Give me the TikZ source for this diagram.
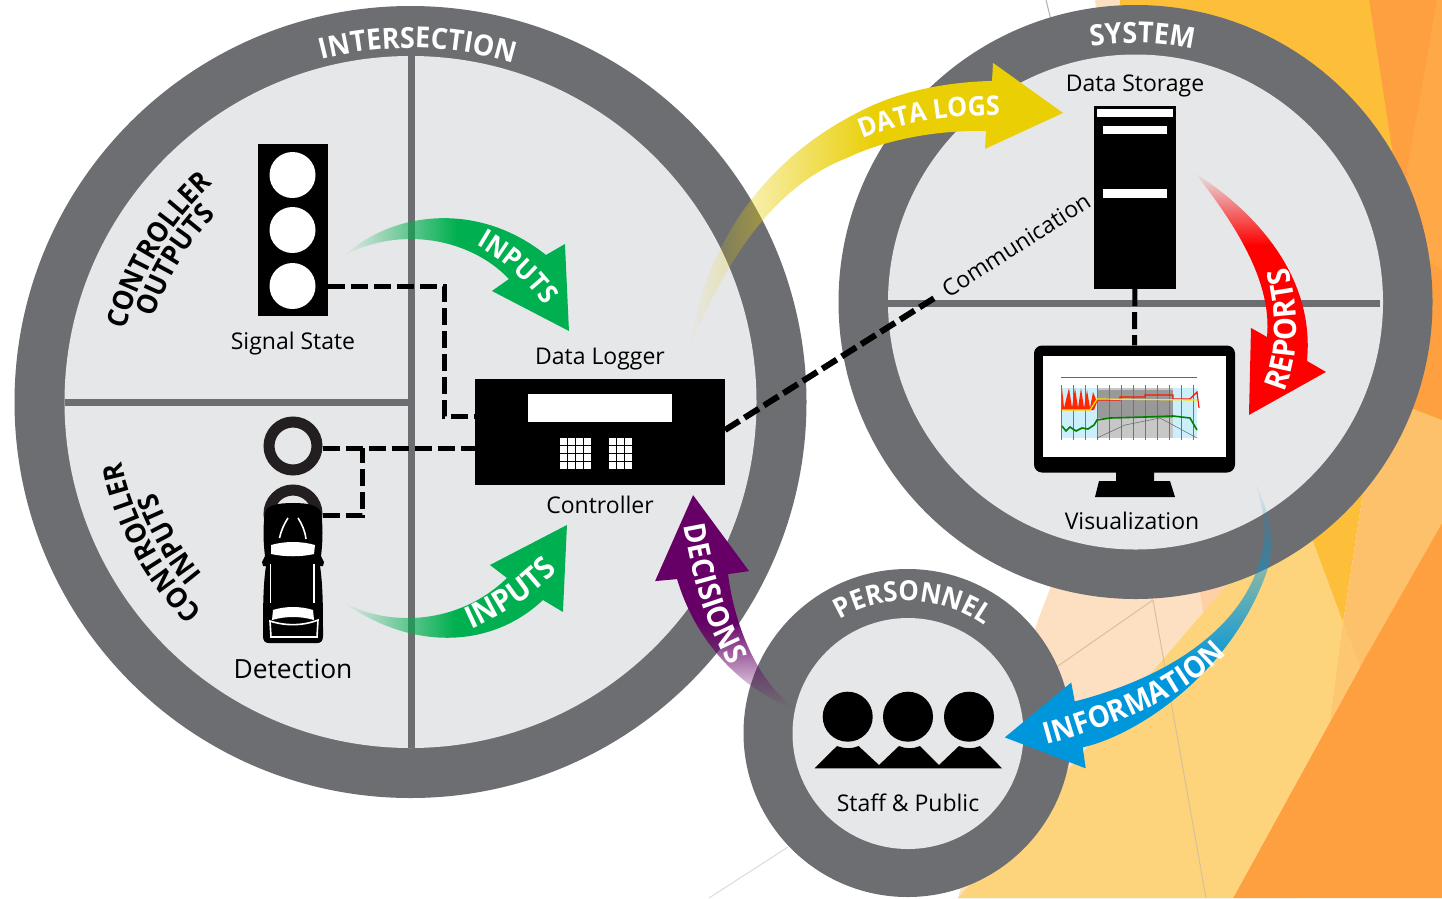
\documentclass[tikz,border=0pt]{standalone}
\usepackage{fontspec}
\setmainfont{Open Sans}
\newfontfamily\capsfont[FakeStretch=0.93]{Open Sans}
\usetikzlibrary{decorations.text,fadings}
\definecolor{ringgrey}{HTML}{6D6E71}
\definecolor{innergrey}{HTML}{E6E7E8}
\definecolor{loopdark}{HTML}{231F20}
\definecolor{bgpeach}{HTML}{FDE0C2}
\definecolor{bgpeachdark}{HTML}{FDD0A6}
\definecolor{bgyellow}{HTML}{FDD47C}
\definecolor{bggold}{HTML}{FDBF3A}
\definecolor{bgorange}{HTML}{FEA03F}
\definecolor{bgorangelight}{HTML}{FDC06B}
\definecolor{bgwedge}{HTML}{FEA848}
\definecolor{bgline}{HTML}{D9BF9A}
\definecolor{arrowgreen}{HTML}{00B050}
\definecolor{arrowyellow}{HTML}{EACF04}
\definecolor{arrowpurple}{HTML}{660066}
\definecolor{arrowblue}{HTML}{0096DB}
\pgfdeclarehorizontalshading{longramp}{100bp}{color(0bp)=(black); color(25bp)=(black); color(50bp)=(white); color(100bp)=(white)}
\pgfdeclarehorizontalshading{shortramp}{100bp}{color(0bp)=(black); color(25.5bp)=(black); color(46bp)=(white); color(100bp)=(white)}
\pgfdeclarehorizontalshading{redramp}{100bp}{color(0bp)=(black); color(25bp)=(black); color(40bp)=(white); color(100bp)=(white)}
\pgfdeclarehorizontalshading{blueramp}{100bp}{color(0bp)=(black); color(26bp)=(black); color(58bp)=(white); color(100bp)=(white)}
\pgfdeclarefading{fadelong}{\pgfuseshading{longramp}}
\pgfdeclarefading{fadeshort}{\pgfuseshading{shortramp}}
\pgfdeclarefading{fadered}{\pgfuseshading{redramp}}
\pgfdeclarefading{fadeblue}{\pgfuseshading{blueramp}}
\newcommand{\capstext}[1]{\capsfont\bfseries\fontsize{#1}{#1}\selectfont\color{white}}
\newcommand{\zonetext}{\capsfont\bfseries\fontsize{28}{28}\selectfont\color{black}}
\tikzset{
  ring/.style={fill=ringgrey},
  inner/.style={fill=innergrey},
  bar/.style={draw=ringgrey,line width=7pt},
  label/.style={font=\fontsize{23}{23}\selectfont},
  dashline/.style={line width=5pt,dash pattern=on 17pt off 6pt},
  arctext/.style 2 args={decorate,decoration={text along path,text align=center,text={|#1|#2}}},
  keycell/.style={fill=white,minimum size=7pt}
}
\begin{document}
\begin{tikzpicture}
    [x=1pt,y=-1pt,inner sep=0pt]
    \useasboundingbox (0,0) rectangle (1442,898);
    % background
    \fill [white] (0,0) rectangle (1442,898);
    \fill [bgpeach] (1095,0) -- (1125,0) -- (1135,40) -- (1100,40) -- cycle;
    \fill [bgpeach] (1065,550) -- (1038,620) -- (958,898) -- (1300,898) -- (1300,500) -- cycle;
    \fill [bgpeachdark] (1195,560) -- (1204,618) -- (1260,555) -- cycle;
    \fill [bgorange] (1369,0) -- (1442,0) -- (1442,898) -- (1233,898) -- (1360,667) -- cycle;
    \fill [bgwedge] (1437,0) -- (1442,0) -- (1442,270) -- (1395,240) -- cycle;
    \fill [bggold] (1120,0) -- (1369,0) -- (1400,200) -- (1363,493) -- (1343,623) -- (1313,542) -- (1135,302) -- cycle;
    \fill [bgyellow] (958,898) -- (1300,500) -- (1313,542) -- (1343,623) -- (1360,667) -- (1233,898) -- cycle;
    \fill [bgorangelight] (1363,493) -- (1343,623) -- (1360,667) -- (1442,523) -- (1442,420) -- (1390,400) -- cycle;
    \fill [bgorangelight!70!bgyellow] (1343,623) -- (1330,722) -- (1360,667) -- cycle;
    \draw [bgline,line width=1pt] (1153,600) -- (1206,898);
    \draw [bgline,line width=1pt] (1153,600) -- (1055,668);
    \draw [black!14,line width=1pt] (788,847) -- (709,898);
    \draw [black!30,line width=1pt] (1046,0) -- (1051,20);
    % rings
    \fill [ring] (410.5,402) circle [radius=396];
    \fill [inner] (410.5,402) circle [radius=346];
    \fill [ring] (1135.5,302) circle [radius=297];
    \fill [inner] (1135.5,302) circle [radius=247.5];
    \fill [ring] (907.5,733) circle [radius=164];
    \fill [inner] (908,733.5) circle [radius=115.5];
    \draw [bar] (411,56) -- (411,748);
    \draw [bar] (65,402) -- (408,402);
    \draw [bar] (888,303) -- (1380,303);
    % ring titles
    \path [arctext={\capstext{29}}{INTERSECTION}] ([shift={(410.5,402)}]251.2:354) arc [start angle=251.2,end angle=291.2,radius=354];
    \path [arctext={\capstext{29}}{SYSTEM}] ([shift={(1135.5,302)}]256.5:259) arc [start angle=256.5,end angle=286.5,radius=259];
    \path [arctext={\capstext{27.7}}{PERSONNEL}] ([shift={(907.5,733)}]232.5:132) arc [start angle=232.5,end angle=312.5,radius=132];
    \path [arctext={\zonetext}{CONTROLLER}] ([shift={(410.5,402)}]191:294) arc [start angle=191,end angle=231,radius=294];
    \path [arctext={\zonetext}{OUTPUTS}] ([shift={(410.5,402)}]196:270) arc [start angle=196,end angle=226,radius=270];
    \path [arctext={\zonetext}{CONTROLLER}] ([shift={(410.5,402)}]131.5:295) arc [start angle=131.5,end angle=171.5,radius=295];
    \path [arctext={\zonetext}{INPUTS}] ([shift={(410.5,402)}]135.5:270) arc [start angle=135.5,end angle=165.5,radius=270];
    % signal
    \node (signal) at (293,230) [fill=black,minimum width=70pt,minimum height=172pt] {};
    \foreach \lamp/\ypos in {lampa/175,lampb/230,lampc/286}
      \node (\lamp) at (292.5,\ypos) [circle,fill=white,minimum size=46pt] {};
    \node (signallabel) at (293,344) [label] {Signal State};
    % detection
    \node (loopa) at (293,446) [circle,draw=loopdark,line width=11pt,minimum size=48pt] {};
    \node (loopb) at (293,514) [circle,draw=loopdark,line width=11pt,minimum size=48pt] {};
    \fill [black] (293,503) .. controls (278,503) and (268,505) .. (265,512) .. controls (263,525) and (263,540) .. (265,556)
      -- (262,562) -- (263,566) -- (266,566) .. controls (263,585) and (263,610) .. (263,636)
      .. controls (263,641) and (265,643) .. (269,643) -- (317,643) .. controls (321,643) and (323,641) .. (323,636)
      .. controls (323,610) and (323,585) .. (320,566) -- (323,566) -- (324,562) -- (321,556)
      .. controls (323,540) and (323,525) .. (321,512) .. controls (318,505) and (308,503) .. (293,503) -- cycle;
    \fill [white] (271,545) .. controls (285,541) and (301,541) .. (315,545) -- (314,554) .. controls (301,557) and (285,557) .. (271,554) -- cycle;
    \draw [white,line width=1.6pt] (288,518) .. controls (284,524) and (281,531) .. (279.5,538);
    \draw [white,line width=1.6pt] (298,518) .. controls (302,524) and (305,531) .. (306,539);
    \draw [white,line width=1.2pt] (270.7,564) -- (270.7,603);
    \draw [white,line width=1.2pt] (314,564) -- (314,603);
    \fill [white] (273,610) .. controls (285,606) and (301,606) .. (313,610) -- (314,620) .. controls (301,616) and (285,616) .. (272,620) -- cycle;
    \draw [white,line width=1.6pt] (270,621) .. controls (285,626) and (303,626) .. (318,620) -- (317,637) -- (271,637) -- cycle;
    \node (detectionlabel) at (293,669) [font=\fontsize{26.4}{26.4}\selectfont] {Detection};
    % controller
    \node (logger) at (600,359) [label] {Data Logger};
    \node (controller) at (600,432) [fill=black,minimum width=250pt,minimum height=106pt] {};
    \node (display) at (600,408) [fill=white,minimum width=144pt,minimum height=28pt] {};
    \foreach \ypos in {441,449,457,465} {
      \foreach \xpos in {563.5,571.5,579.5,587.5,612.5,620.5,628.5}
        \node at (\xpos,\ypos) [keycell] {};
    }
    \node (controllerlabel) at (600,505) [label] {Controller};
    % system
    \node (storagelabel) at (1135,86) [label] {Data Storage};
    \node (server) at (1135,197.5) [fill=black,minimum width=82pt,minimum height=183pt] {};
    \node (slota) at (1135,113) [fill=white,minimum width=76pt,minimum height=8pt] {};
    \node (slotb) at (1135,130) [fill=white,minimum width=64pt,minimum height=8pt] {};
    \node (slotc) at (1135,193.5) [fill=white,minimum width=64pt,minimum height=9pt] {};
    \node (commlabel) at (1016,245) [label,rotate=32.7] {Communication};
    \node (monitor) at (1134.5,409) [fill=black,rounded corners=8pt,minimum width=201pt,minimum height=127pt] {};
    \node (screen) at (1134.5,406.5) [fill=white,minimum width=183pt,minimum height=101pt] {};
    \fill [black] (1116,472) -- (1154,472) -- (1154,481) -- (1170,481) -- (1175,497) -- (1095,497) -- (1099,481) -- (1116,481) -- cycle;
    \fill [cyan!20!white] (1061,388) rectangle (1197,438);
    \fill [black!22] (1097,388) rectangle (1173,438);
    \fill [black!40] (1097,390) rectangle (1173,418);
    \foreach \xpos in {1061,1073,...,1203}
      \draw [black!55,line width=.5pt] (\xpos,385) -- (\xpos,440);
    \draw [black!60,line width=.5pt] (1061,377) -- (1197,377);
    \fill [red!70!orange] (1062,388) -- (1064,408) -- (1069,388) -- (1072,408) -- (1075,388) -- (1078,408) -- (1081,388) -- (1084,408) -- (1087,390) -- (1090,408) -- (1093,392) -- (1097,402) -- (1094,410) -- (1062,410) -- cycle;
    \draw [red!85!orange,line width=1.2pt] (1097,400) -- (1120,400) -- (1120,397) -- (1145,397) -- (1145,395) -- (1173,395) -- (1173,399) -- (1190,399) -- (1197,392) -- (1199,408);
    \draw [yellow!90!orange,line width=1.2pt] (1062,410) -- (1090,410) -- (1097,399) -- (1197,400);
    \draw [green!50!black,line width=1.6pt] (1062,426) -- (1066,431) -- (1070,427) -- (1076,431) -- (1082,428) -- (1088,429) -- (1094,425) -- (1097,420) -- (1110,418) -- (1145,417) -- (1173,416) -- (1190,418) -- (1197,430);
    \draw [black!60,line width=.5pt] (1097,438) -- (1125,425) -- (1160,418) -- (1197,438);
    \node (monitorlabel) at (1132,521) [label] {Visualization};
    % personnel
    \foreach \xpos in {847.7,908,969}
      \fill [black] (\xpos,716.7) ellipse [x radius=25,y radius=25];
    \fill [black] (814.5,768.3) -- (837,746) .. controls (845,749) and (851,749) .. (858.5,746) -- (879,765) -- (899,746)
      .. controls (906,749) and (913,749) .. (920,746) -- (939,765) -- (959,746) .. controls (966,749) and (973,749) .. (980,746) -- (1002,768.3) -- cycle;
    \node (stafflabel) at (908,803) [label] {Staff \& Public};
    % connectors
    \coordinate (signalbend) at (444,286);
    \coordinate (signalin) at (475,416);
    \coordinate (loopbend) at (362,515);
    \coordinate (loopjoin) at (362,448);
    \coordinate (loopin) at (475,448);
    \coordinate (commout) at (725,430);
    \coordinate (commend) at (936,297);
    \draw [dashline] (signal.east |- lampc) -- (signalbend) |- (signalin);
    \draw [dashline] (loopa.east |- loopin) -- (loopin);
    \draw [dashline] (loopb.east |- loopbend) -- (loopbend) -- (loopjoin);
    \draw [dashline,line width=6pt] (commout) -- (commend);
    \draw [dashline] (server) -- (monitor);
    % arrows
    \fill [arrowgreen,path fading=fadelong] (345,255) .. controls (395,210) and (480,202) .. (546,255)
      -- (565,244) -- (569,331) -- (492,291) -- (509,279) .. controls (470,238) and (400,226) .. (345,255) -- cycle;
    \path [arctext={\capstext{27}}{INPUTS}] (478,246) .. controls (507,263) and (527,281) .. (543,304);
    \fill [arrowgreen,path fading=fadelong] (343,602) .. controls (390,628) and (460,624) .. (507,578)
      -- (490,565) -- (567,525) -- (563,612) -- (543,600) .. controls (490,650) and (410,650) .. (343,602) -- cycle;
    \path [arctext={\capstext{31}}{INPUTS}] (468,631) .. controls (505,615) and (535,595) .. (560,568);
    \fill [arrowyellow,path fading=fadelong] (690,348) .. controls (700,270) and (745,170) .. (857,113)
      .. controls (900,90) and (950,82) .. (992,81) -- (993,63) -- (1063,113) -- (985,149) -- (986,131)
      .. controls (930,130) and (880,142) .. (847,158) .. controls (790,180) and (735,235) .. (690,348) -- cycle;
    \path [arctext={\capstext{27}}{DATA LOGS}] (858,141) .. controls (900,122) and (950,115) .. (1005,115);
    \fill [arrowpurple,path fading=fadeshort,fading angle=90] (693,495) -- (749,571) -- (728,574) .. controls (735,630) and (760,685) .. (797,710)
      .. controls (740,690) and (695,640) .. (677,579) -- (655,581) -- cycle;
    \path [arctext={\capstext{30}}{DECISIONS}] (683,523) .. controls (693,580) and (706,625) .. (731,668);
    \fill [red,path fading=fadered,fading angle=-90] (1195,173) .. controls (1260,215) and (1315,280) .. (1307,361)
      -- (1326,372) -- (1249,415) -- (1251,328) -- (1267,337) .. controls (1272,285) and (1240,230) .. (1195,173) -- cycle;
    \path [arctext={\capstext{31}}{REPORTS}] (1282,397) .. controls (1300,360) and (1300,315) .. (1287,262);
    \fill [arrowblue,path fading=fadeblue,fading angle=-90] (1005,738) -- (1071.5,683) -- (1075,702)
      .. controls (1180,675) and (1250,620) .. (1263,550) .. controls (1268,530) and (1263,500) .. (1252,475)
      .. controls (1270,510) and (1277,540) .. (1267,573) .. controls (1232,672) and (1140,735) .. (1083,748)
      -- (1086,769) -- cycle;
    \path [arctext={\capstext{30}}{INFORMATION}] (1042,746) .. controls (1120,725) and (1190,695) .. (1230,650);
  \end{tikzpicture}
\end{document}
